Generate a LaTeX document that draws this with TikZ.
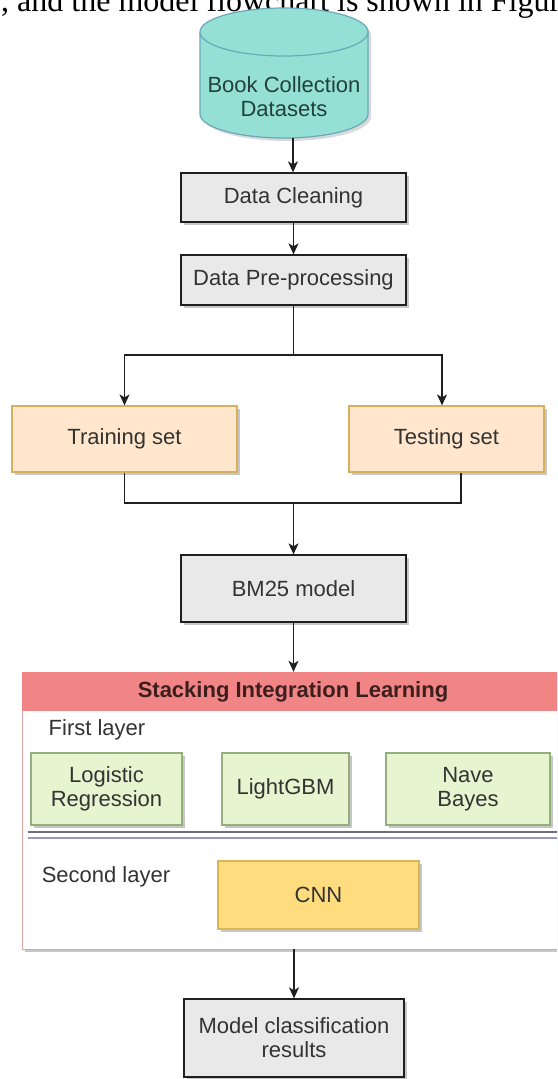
\documentclass[tikz,border=0pt]{standalone}
\usepackage{fontspec}
\setmainfont{Liberation Sans}
\newfontfamily\serifnt{Liberation Serif}
\usetikzlibrary{shadows,arrows.meta}
\definecolor{txt}{HTML}{333333}
\definecolor{graybg}{HTML}{E9E9E9}
\definecolor{grayln}{HTML}{1F1F1F}
\definecolor{orgbg}{HTML}{FFE6CC}
\definecolor{orgln}{HTML}{D6B05A}
\definecolor{grnbg}{HTML}{E6F4D0}
\definecolor{grnln}{HTML}{94AE7C}
\definecolor{cnnbg}{HTML}{FFDD7E}
\definecolor{cnnln}{HTML}{D6B656}
\definecolor{hdrbg}{HTML}{F18585}
\definecolor{hdrtxt}{HTML}{3D1E1E}
\definecolor{frmln}{HTML}{E3A3A3}
\definecolor{cylbg}{HTML}{95E0D4}
\definecolor{cylln}{HTML}{6AA8BA}
\definecolor{cyltxt}{HTML}{23403D}
\definecolor{sepa}{HTML}{6E6E7E}
\definecolor{sepb}{HTML}{9A98C0}
\tikzset{
  shd/.style={drop shadow={shadow xshift=3pt, shadow yshift=-3pt, opacity=0.22, fill=black}},
  txtbase/.style={font=\fontsize{22}{24}\selectfont, text=txt, align=center, inner sep=0pt},
  graybox/.style={txtbase, draw=grayln, fill=graybg, line width=1.3pt, shd},
  orgbox/.style={txtbase, draw=orgln, fill=orgbg, line width=1.2pt, shd},
  grnbox/.style={txtbase, draw=grnln, fill=grnbg, line width=1.1pt, shd},
  cnnbox/.style={txtbase, draw=cnnln, fill=cnnbg, line width=1.1pt, shd},
  conn/.style={draw=grayln, line width=1.3pt},
  arr/.style={conn, -{Stealth[length=11pt, width=10pt, inset=3pt]}},
}
\begin{document}
\begin{tikzpicture}[x=1pt,y=-1pt]
\useasboundingbox (0,0) rectangle (557,1079);
\clip (0,0) rectangle (557,1079);
\fill[white] (0,0) rectangle (557,1079);

% cut-off line of running text
\node[anchor=base west, inner sep=0pt, font=\serifnt\fontsize{32}{32}\selectfont] (toptext) at (1,11) {, and the model flowchart is shown in Figure};

% cylinder
\fill[black, opacity=0.15] (203,35) -- (203,117) arc[start angle=180, end angle=0, x radius=84, y radius=24] -- (371,35) arc[start angle=0, end angle=-180, x radius=84, y radius=24] -- cycle;
\path[fill=cylbg, draw=cylln, line width=1.2pt] (200,32) -- (200,114) arc[start angle=180, end angle=0, x radius=84, y radius=24] -- (368,32) arc[start angle=0, end angle=-180, x radius=84, y radius=24] -- cycle;
\draw[cylln, line width=1.2pt] (200,32) arc[start angle=180, end angle=0, x radius=84, y radius=24];
\node[txtbase, text=cyltxt] (db) at (284,96.5) {Book Collection\\Datasets};
\coordinate (dbb) at (293,138);

% main column
\node[graybox, minimum width=225pt, minimum height=49pt] (clean) at (293.5,197.5) {Data Cleaning};
\node[graybox, minimum width=225pt, minimum height=50pt] (prep) at (293.5,280) {Data Pre-processing};
\node[orgbox, minimum width=225pt, minimum height=66pt] (train) at (124.5,439) {Training set};
\node[orgbox, minimum width=195pt, minimum height=66pt] (test) at (446.5,439) {Testing set};
\node[graybox, minimum width=225pt, minimum height=67pt] (bm) at (293.5,588.5) {BM25 model};

% stacking frame
\node[draw=frmln, fill=white, line width=0.8pt, minimum width=542pt, minimum height=277pt, inner sep=0pt, shd] (frame) at (293,810.5) {};
\node[fill=hdrbg, minimum width=542pt, minimum height=39pt, inner sep=0pt, text=hdrtxt, font=\bfseries\fontsize{22}{24}\selectfont] (hdr) at (293,691.5) {Stacking Integration Learning};
\node[txtbase] (first) at (97,730) {First layer};
\node[grnbox, minimum width=151pt, minimum height=72pt] (lr) at (106.5,789) {Logistic\\Regression};
\node[grnbox, minimum width=127pt, minimum height=72pt] (lgb) at (285.5,789) {LightGBM};
\node[grnbox, minimum width=164pt, minimum height=72pt] (nb) at (468,789) {Nave\\Bayes};
\draw[sepa, line width=1.1pt] (28,832) -- (564,832);
\draw[sepb, line width=1.1pt] (28,838) -- (564,838);
\node[txtbase] (second) at (106,877) {Second layer};
\node[cnnbox, minimum width=201pt, minimum height=68pt] (cnn) at (318.5,895) {CNN};

\node[graybox, minimum width=220pt, minimum height=78pt] (model) at (294,1038) {Model classification\\results};

% connectors
\draw[arr] (dbb) -- (clean.north -| dbb);
\draw[arr] (clean.south) -- (prep.north);
\draw[conn] (prep.south) -- (293.5,355) coordinate (split);
\draw[arr] (split) -| (train.north);
\draw[arr] (split) -| ([xshift=-4.5pt]test.north);
\coordinate (join) at (293.5,503);
\draw[conn] (train.south) |- (join) -| ([xshift=14.5pt]test.south);
\draw[arr] (join) -- (bm.north);
\draw[arr] (bm.south) -- (hdr.north -| bm.south);
\draw[arr] (frame.south -| model.north) -- (model.north);
\end{tikzpicture}
\end{document}
